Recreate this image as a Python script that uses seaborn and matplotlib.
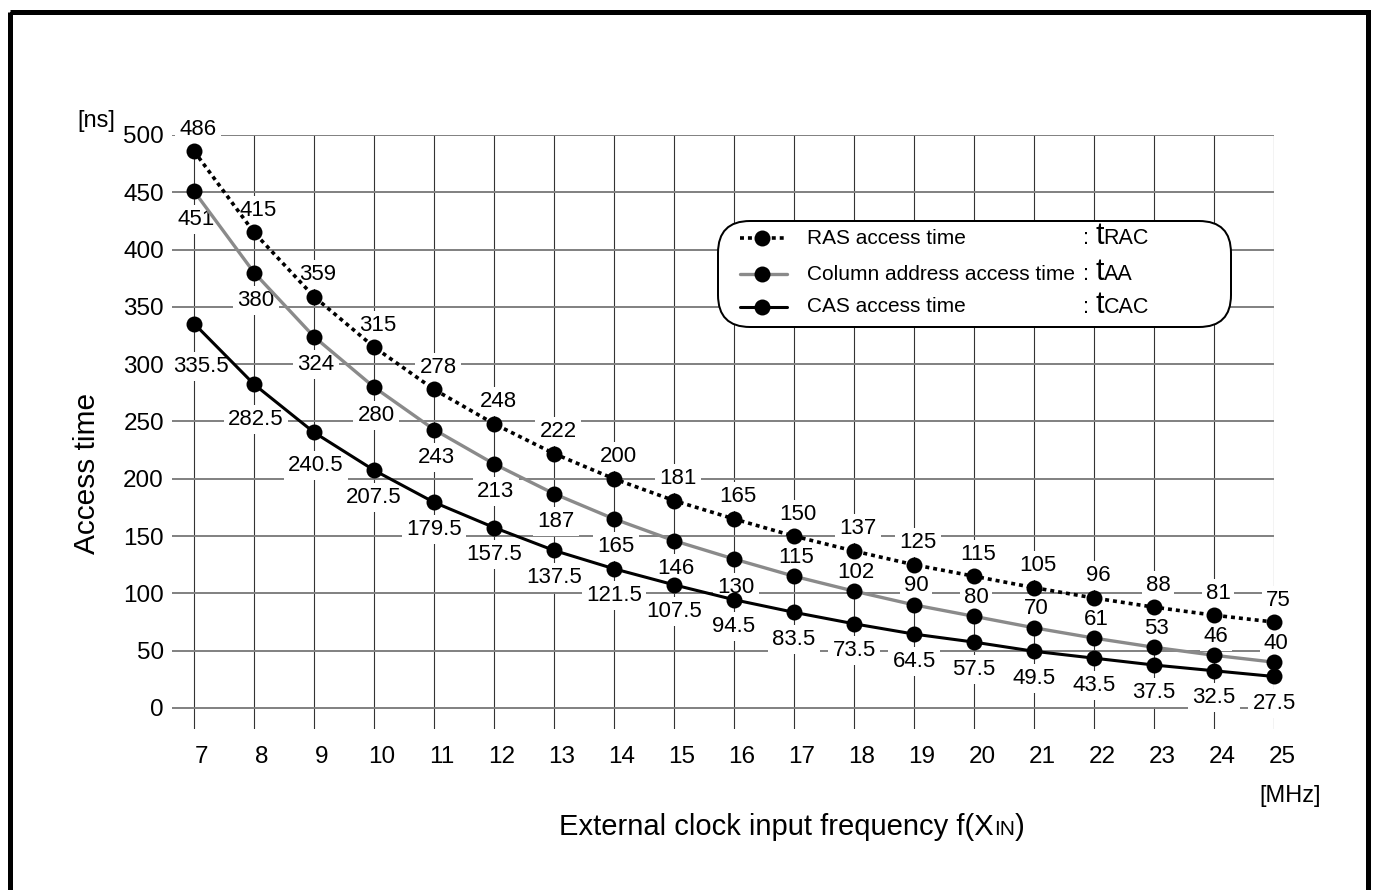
import pandas as pd
import matplotlib
matplotlib.use("Agg")
import matplotlib.pyplot as plt
import seaborn as sns
from matplotlib.patches import FancyBboxPatch, Rectangle
from matplotlib.transforms import ScaledTranslation
from matplotlib.offsetbox import TextArea, HPacker, AnchoredOffsetbox

# data
freq = [7, 8, 9, 10, 11, 12, 13, 14, 15, 16, 17, 18, 19, 20, 21, 22, 23, 24, 25]
t_rac = [486, 415, 359, 315, 278, 248, 222, 200, 181, 165, 150, 137, 125, 115, 105, 96, 88, 81, 75]
t_aa = [451, 380, 324, 280, 243, 213, 187, 165, 146, 130, 115, 102, 90, 80, 70, 61, 53, 46, 40]
t_cac = [335.5, 282.5, 240.5, 207.5, 179.5, 157.5, 137.5, 121.5, 107.5, 94.5,
         83.5, 73.5, 64.5, 57.5, 49.5, 43.5, 37.5, 32.5, 27.5]

series_names = ["RAS access time", "Column address access time", "CAS access time"]
series_subs = ["RAC", "AA", "CAC"]

df = pd.DataFrame({"freq": freq, "tRAC": t_rac, "tAA": t_aa, "tCAC": t_cac})

sns.set_style("white")
plt.rcParams["font.family"] = ["Liberation Sans", "DejaVu Sans"]
plt.rcParams["text.color"] = "black"
plt.rcParams["xtick.color"] = "black"
plt.rcParams["ytick.color"] = "black"
plt.rcParams["axes.labelcolor"] = "black"

W, H = 1374, 890
fig = plt.figure(figsize=(W / 100, H / 100), dpi=100)
PX = 72 / 100  # points per pixel

# main axes, placed in pixels
ax_l, ax_r, ax_t, ax_b = 172, 1274, 135, 729
ax = fig.add_axes([ax_l / W, 1 - ax_b / H, (ax_r - ax_l) / W, (ax_b - ax_t) / H])
ax.set_xlim(7 - (194 - ax_l) / 60, 25)
ax.set_ylim(-(ax_b - 708) / 1.146, 500)
for s in ax.spines.values():
    s.set_visible(False)
ax.set_axisbelow(True)
ax.xaxis.grid(True, color="#333333", linewidth=0.8)
ax.yaxis.grid(True, color="#808080", linewidth=1.4)
ax.set_xticks(freq)
ax.set_yticks(range(0, 501, 50))
ax.tick_params(axis="both", length=0, labelsize=17.5, labelcolor="black")
ax.tick_params(axis="y", pad=8 * PX)
ax.tick_params(axis="x", pad=17 * PX)
for lab in ax.get_xticklabels():
    lab.set_transform(lab.get_transform() + ScaledTranslation(8 / 100, 0, fig.dpi_scale_trans))

line_kw = dict(marker="o", markersize=11.5, markeredgewidth=0, clip_on=False, zorder=4)
sns.lineplot(data=df, x="freq", y="tRAC", ax=ax, color="black", linewidth=2.6,
             linestyle=(0, (1.1, 1.1)), markerfacecolor="black", **line_kw)
sns.lineplot(data=df, x="freq", y="tAA", ax=ax, color="#8a8a8a", linewidth=2.4,
             markerfacecolor="black", **line_kw)
sns.lineplot(data=df, x="freq", y="tCAC", ax=ax, color="black", linewidth=2.2,
             markerfacecolor="black", **line_kw)
ax.set_xlabel("")
ax.set_ylabel("")

lab_kw = dict(textcoords="offset points", ha="center", va="center", fontsize=16,
              bbox=dict(boxstyle="square,pad=0.18", fc="white", ec="none"),
              zorder=3, annotation_clip=False)

# value labels (offsets in pixels)
for f, v in zip(freq, t_rac):
    ax.annotate(f"{v:g}", (f, v), xytext=(4 * PX, 22 * PX), **lab_kw)
for f, v in zip(freq, t_aa):
    dy = 19 if f >= 17 else -28
    ax.annotate(f"{v:g}", (f, v), xytext=(2 * PX, dy * PX), **lab_kw)
cac_dy = [43, 35, 33] + [27] * (len(freq) - 3)
cac_dx = [7, 2, 2] + [0] * (len(freq) - 3)
for f, v, dx, dy in zip(freq, t_cac, cac_dx, cac_dy):
    ax.annotate(f"{v:g}", (f, v), xytext=(dx * PX, -dy * PX), **lab_kw)

# overlay in pixel coordinates for frame, legend, axis titles
ov = fig.add_axes([0, 0, 1, 1], zorder=5)
ov.set_xlim(0, W)
ov.set_ylim(H, 0)
ov.axis("off")
ov.patch.set_alpha(0)

ov.add_patch(Rectangle((9.5, 11.5), 1358.5, 950, fill=False, edgecolor="black",
                       linewidth=5 * PX, clip_on=False))

ov.text(96, 121, "[ns]", ha="center", va="center", fontsize=17)
ov.text(1290, 796, "[MHz]", ha="center", va="center", fontsize=17)
ov.text(87, 473, "Access time", ha="center", va="center", rotation=90, fontsize=21.5)

xl = HPacker(children=[TextArea("External clock input frequency f(X", textprops=dict(size=21)),
                       TextArea("IN", textprops=dict(size=15)),
                       TextArea(")", textprops=dict(size=21))],
             align="baseline", pad=0, sep=0)
fig.add_artist(AnchoredOffsetbox(loc="center", child=xl, pad=0, borderpad=0, frameon=False,
                                 bbox_to_anchor=(792 / W, 1 - 827 / H),
                                 bbox_transform=fig.transFigure))

# legend box
ov.add_patch(FancyBboxPatch((718, 221), 1231 - 718, 327 - 221,
                            boxstyle="round,pad=0,rounding_size=32",
                            facecolor="white", edgecolor="black", linewidth=2 * PX))
rows = [238, 274, 307]
handle_styles = [dict(color="black", linewidth=2.6, linestyle=(0, (1.1, 1.1))),
                 dict(color="#8a8a8a", linewidth=2.4),
                 dict(color="black", linewidth=2.2)]
for ry, name, sub, hs in zip(rows, series_names, series_subs, handle_styles):
    ov.plot([740, 787], [ry, ry], **hs)
    ov.plot([762], [ry], marker="o", markersize=11.5, markeredgewidth=0, color="black")
    ov.text(807, ry, name, ha="left", va="center", fontsize=15)
    tail = HPacker(children=[TextArea(": ", textprops=dict(size=15.5)),
                             TextArea("t", textprops=dict(size=22)),
                             TextArea(sub, textprops=dict(size=15.5))],
                   align="baseline", pad=0, sep=0)
    fig.add_artist(AnchoredOffsetbox(loc="center left", child=tail, pad=0, borderpad=0,
                                     frameon=False, bbox_to_anchor=(1083 / W, 1 - (ry - 2) / H),
                                     bbox_transform=fig.transFigure, zorder=6))

fig.savefig("out.png", dpi=100, facecolor="white")
